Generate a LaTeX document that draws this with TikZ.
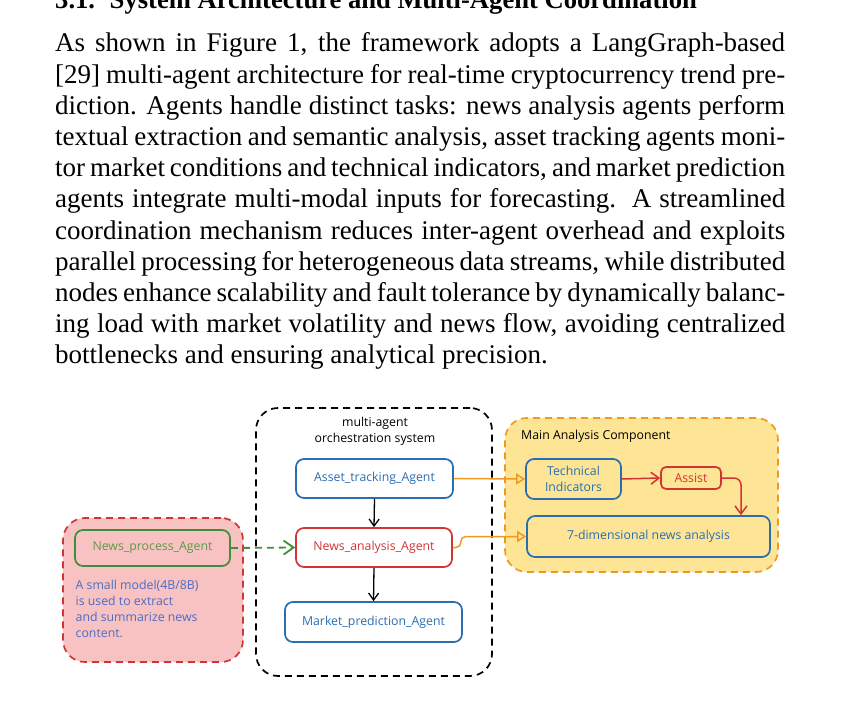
\documentclass[tikz,border=0pt]{standalone}
\usepackage{fontspec}
\setmainfont{Liberation Serif}
\newfontfamily\diafont{Open Sans}
\usetikzlibrary{arrows.meta,calc}
\definecolor{cblue}{HTML}{2A6DB0}
\definecolor{cred}{HTML}{D23434}
\definecolor{cgreen}{HTML}{3E8E3E}
\definecolor{cgreentxt}{HTML}{5C9A48}
\definecolor{cpink}{HTML}{F8C2C2}
\definecolor{cyellow}{HTML}{FDE595}
\definecolor{corange}{HTML}{EE9A22}
\definecolor{cdesc}{HTML}{4B6CC2}
\tikzset{
  para/.style={anchor=base west, inner sep=0pt, font=\fontsize{27}{31}\selectfont},
  agentbox/.style={draw, line width=1.7pt, rounded corners=8pt, inner sep=0pt, font=\diafont\fontsize{12.3}{14}\selectfont},
  bluebox/.style={agentbox, draw=cblue, text=cblue},
  redbox/.style={agentbox, draw=cred, text=cred},
  greenbox/.style={agentbox, draw=cgreen, text=cgreentxt},
  groupbox/.style={dashed, line width=1.7pt, dash pattern=on 7pt off 5pt, rounded corners=22pt, inner sep=0pt},
  difont/.style={font=\diafont\fontsize{12.3}{16}\selectfont},
  blackarrow/.style={line width=1.3pt, -{Straight Barb[length=7pt,width=10pt,line width=1.3pt]}},
  orangearrow/.style={draw=corange, line width=1.5pt, -{Triangle[open, length=9pt, width=11pt, line width=1.5pt, fill=cyellow]}},
  redarrow/.style={draw=cred, line width=1.5pt, -{Straight Barb[length=8pt,width=12pt,line width=1.5pt]}},
  greenarrow/.style={draw=cgreen, line width=1.8pt, dash pattern=on 7pt off 5pt, -{Straight Barb[length=10pt,width=14pt,line width=1.8pt]}},
}
\newcommand{\pline}[1]{\makebox[730pt][s]{#1}}
\begin{document}
\begin{tikzpicture}[x=1pt,y=-1pt]
\path[use as bounding box, clip] (0,0) rectangle (841,708);
\fill[white] (0,0) rectangle (841,708);
% heading (cut at top, as in the reference)
\node[para, font=\fontsize{26.6}{31}\selectfont\bfseries] (head) at (55,9) {3.1.\hspace{0.55em}System Architecture and Multi-Agent Coordination};
% paragraph
\node[para] (l1) at (55,52) {\pline{As shown in Figure 1, the framework adopts a LangGraph-based}};
\node[para] (l2) at (55,83.2) {\pline{[29] multi-agent architecture for real-time cryptocurrency trend pre-}};
\node[para] (l3) at (55,114.4) {\pline{diction. Agents handle distinct tasks: news analysis agents perform}};
\node[para] (l4) at (55,145.6) {\pline{textual extraction and semantic analysis, asset tracking agents moni-}};
\node[para] (l5) at (55,176.8) {\pline{tor market conditions and technical indicators, and market prediction}};
\node[para] (l6) at (55,208) {\pline{agents integrate multi-modal inputs for forecasting.\ \ A streamlined}};
\node[para] (l7) at (55,239.2) {\pline{coordination mechanism reduces inter-agent overhead and exploits}};
\node[para] (l8) at (55,270.4) {\pline{parallel processing for heterogeneous data streams, while distributed}};
\node[para] (l9) at (55,301.6) {\pline{nodes enhance scalability and fault tolerance by dynamically balanc-}};
\node[para] (l10) at (55,332.8) {\pline{ing load with market volatility and news flow, avoiding centralized}};
\node[para] (l11) at (55,364) {bottlenecks and ensuring analytical precision.};

% group boxes
\node[groupbox, draw=black, minimum width=236pt, minimum height=268pt] (orch) at (374,542) {};
\node[groupbox, draw=cred, fill=cpink, minimum width=180pt, minimum height=144pt] (pink) at (153,590) {};
\node[groupbox, draw=corange, fill=cyellow, minimum width=273pt, minimum height=154pt] (yellow) at (641.5,495) {};

% titles
\node[difont, align=center, inner sep=0pt] (orchtitle) at (375,431.5) {multi-agent\\orchestration system};
\node[difont, anchor=west, inner sep=0pt] (mactitle) at (521,436.5) {Main Analysis Component};

% agent nodes
\node[bluebox, minimum width=157pt, minimum height=39pt] (asset) at (374.5,478.5) {Asset\_tracking\_Agent};
\node[redbox, minimum width=156pt, minimum height=39pt] (newsan) at (374,547.5) {News\_analysis\_Agent};
\node[bluebox, minimum width=177pt, minimum height=40pt] (market) at (373.5,622) {Market\_prediction\_Agent};
\node[greenbox, minimum width=155pt, minimum height=36pt] (newsproc) at (152.5,548) {News\_process\_Agent};
\node[difont, anchor=north west, align=left, inner sep=0pt, text=cdesc] (desc) at (75.5,580)
  {A small model(4B/8B)\\is used to extract\\and summarize news\\content.};

\node[bluebox, align=center, minimum width=95pt, minimum height=40pt, font=\diafont\fontsize{12.3}{16}\selectfont] (tech) at (573.5,479) {Technical\\Indicators};
\node[redbox, minimum width=60pt, minimum height=22pt, rounded corners=5pt] (assist) at (691,478) {Assist};
\node[bluebox, minimum width=243pt, minimum height=41pt] (sevend) at (648.5,536.5) {7-dimensional news analysis};

% connectors
\draw[blackarrow] (asset.south) -- (newsan.north);
\draw[blackarrow] (newsan.south) -- (market.north);
\draw[greenarrow] (newsproc.east) -- (newsan.west);
\draw[orangearrow] (asset.east) -- (tech.west);
\draw[orangearrow, rounded corners=5pt] (newsan.east) -- ++(8,0) |- (sevend.west);
\draw[redarrow] (tech.east) -- (assist.west);
\draw[redarrow, rounded corners=7pt] (assist.east) -| ([xshift=92.5pt]sevend.north);
\end{tikzpicture}
\end{document}
